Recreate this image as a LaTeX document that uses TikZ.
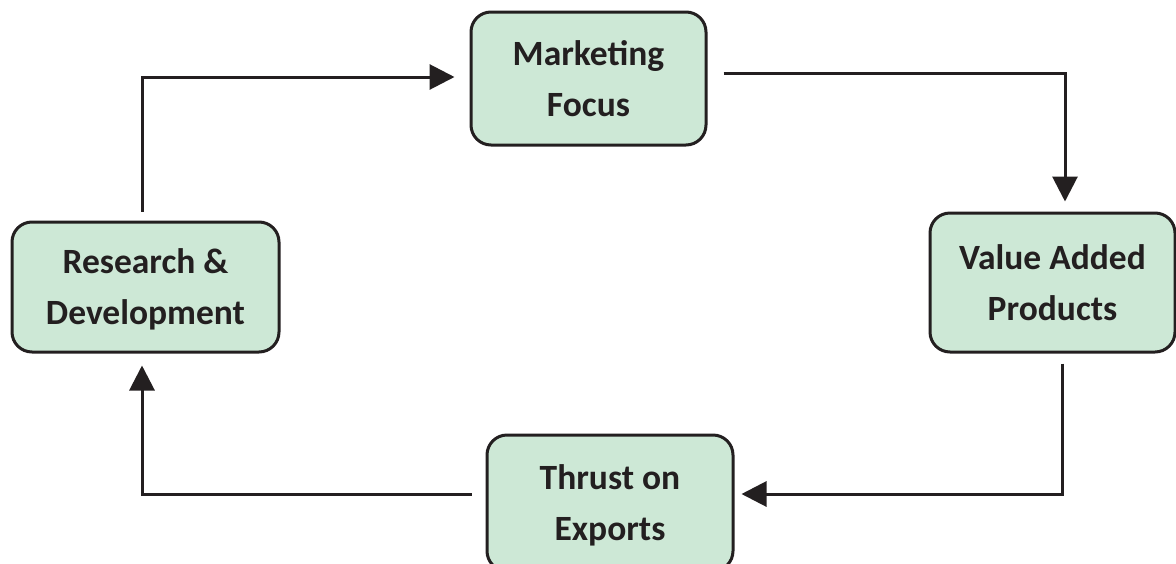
\documentclass[tikz,border=0pt]{standalone}
\usepackage{fontspec}
\setmainfont{Carlito}
\usetikzlibrary{arrows.meta,positioning}

\definecolor{boxgreen}{RGB}{205,232,214}
\definecolor{boxline}{RGB}{35,31,32}

\tikzset{
  stagebox/.style={draw=boxline, fill=boxgreen, line width=3pt, rounded corners=20pt,
    align=center, inner sep=0pt, text depth=0pt,
    font=\fontsize{35.5}{51}\selectfont\bfseries, text=boxline},
  flow/.style={draw=boxline, line width=3pt, -{Triangle[length=25pt,width=25pt]}}
}

\begin{document}
\begin{tikzpicture}[x=1pt,y=-1pt]
  \useasboundingbox (0,0) rectangle (1176,563);

  % boxes
  \node[stagebox, minimum width=235pt, minimum height=133pt] (mkt) at (588.5,78.5) {Marketing\\Focus};
  \node[stagebox, minimum width=245pt, minimum height=139pt] (vap) at (1052.5,282.5) {Value Added\\Products};
  \node[stagebox, minimum width=246pt, minimum height=136pt] (thr) at (610,503) {Thrust on\\Exports};
  \node[stagebox, minimum width=267pt, minimum height=130pt] (rnd) at (145.5,287) {Research \&\\Development};

  % cycle
  \draw[flow] ([xshift=-3.5pt,yshift=9pt]rnd.north) |- ([xshift=-15pt,yshift=1.5pt]mkt.west);
  \draw[flow] ([xshift=16pt,yshift=5.5pt]mkt.east) -| ([xshift=12.5pt,yshift=10pt]vap.north);
  \draw[flow] ([xshift=9.5pt,yshift=-10pt]vap.south) |- ([xshift=7pt,yshift=9pt]thr.east);
  \draw[flow] ([xshift=-14pt,yshift=9pt]thr.west) -| ([xshift=-3.5pt,yshift=-12pt]rnd.south);
\end{tikzpicture}
\end{document}
